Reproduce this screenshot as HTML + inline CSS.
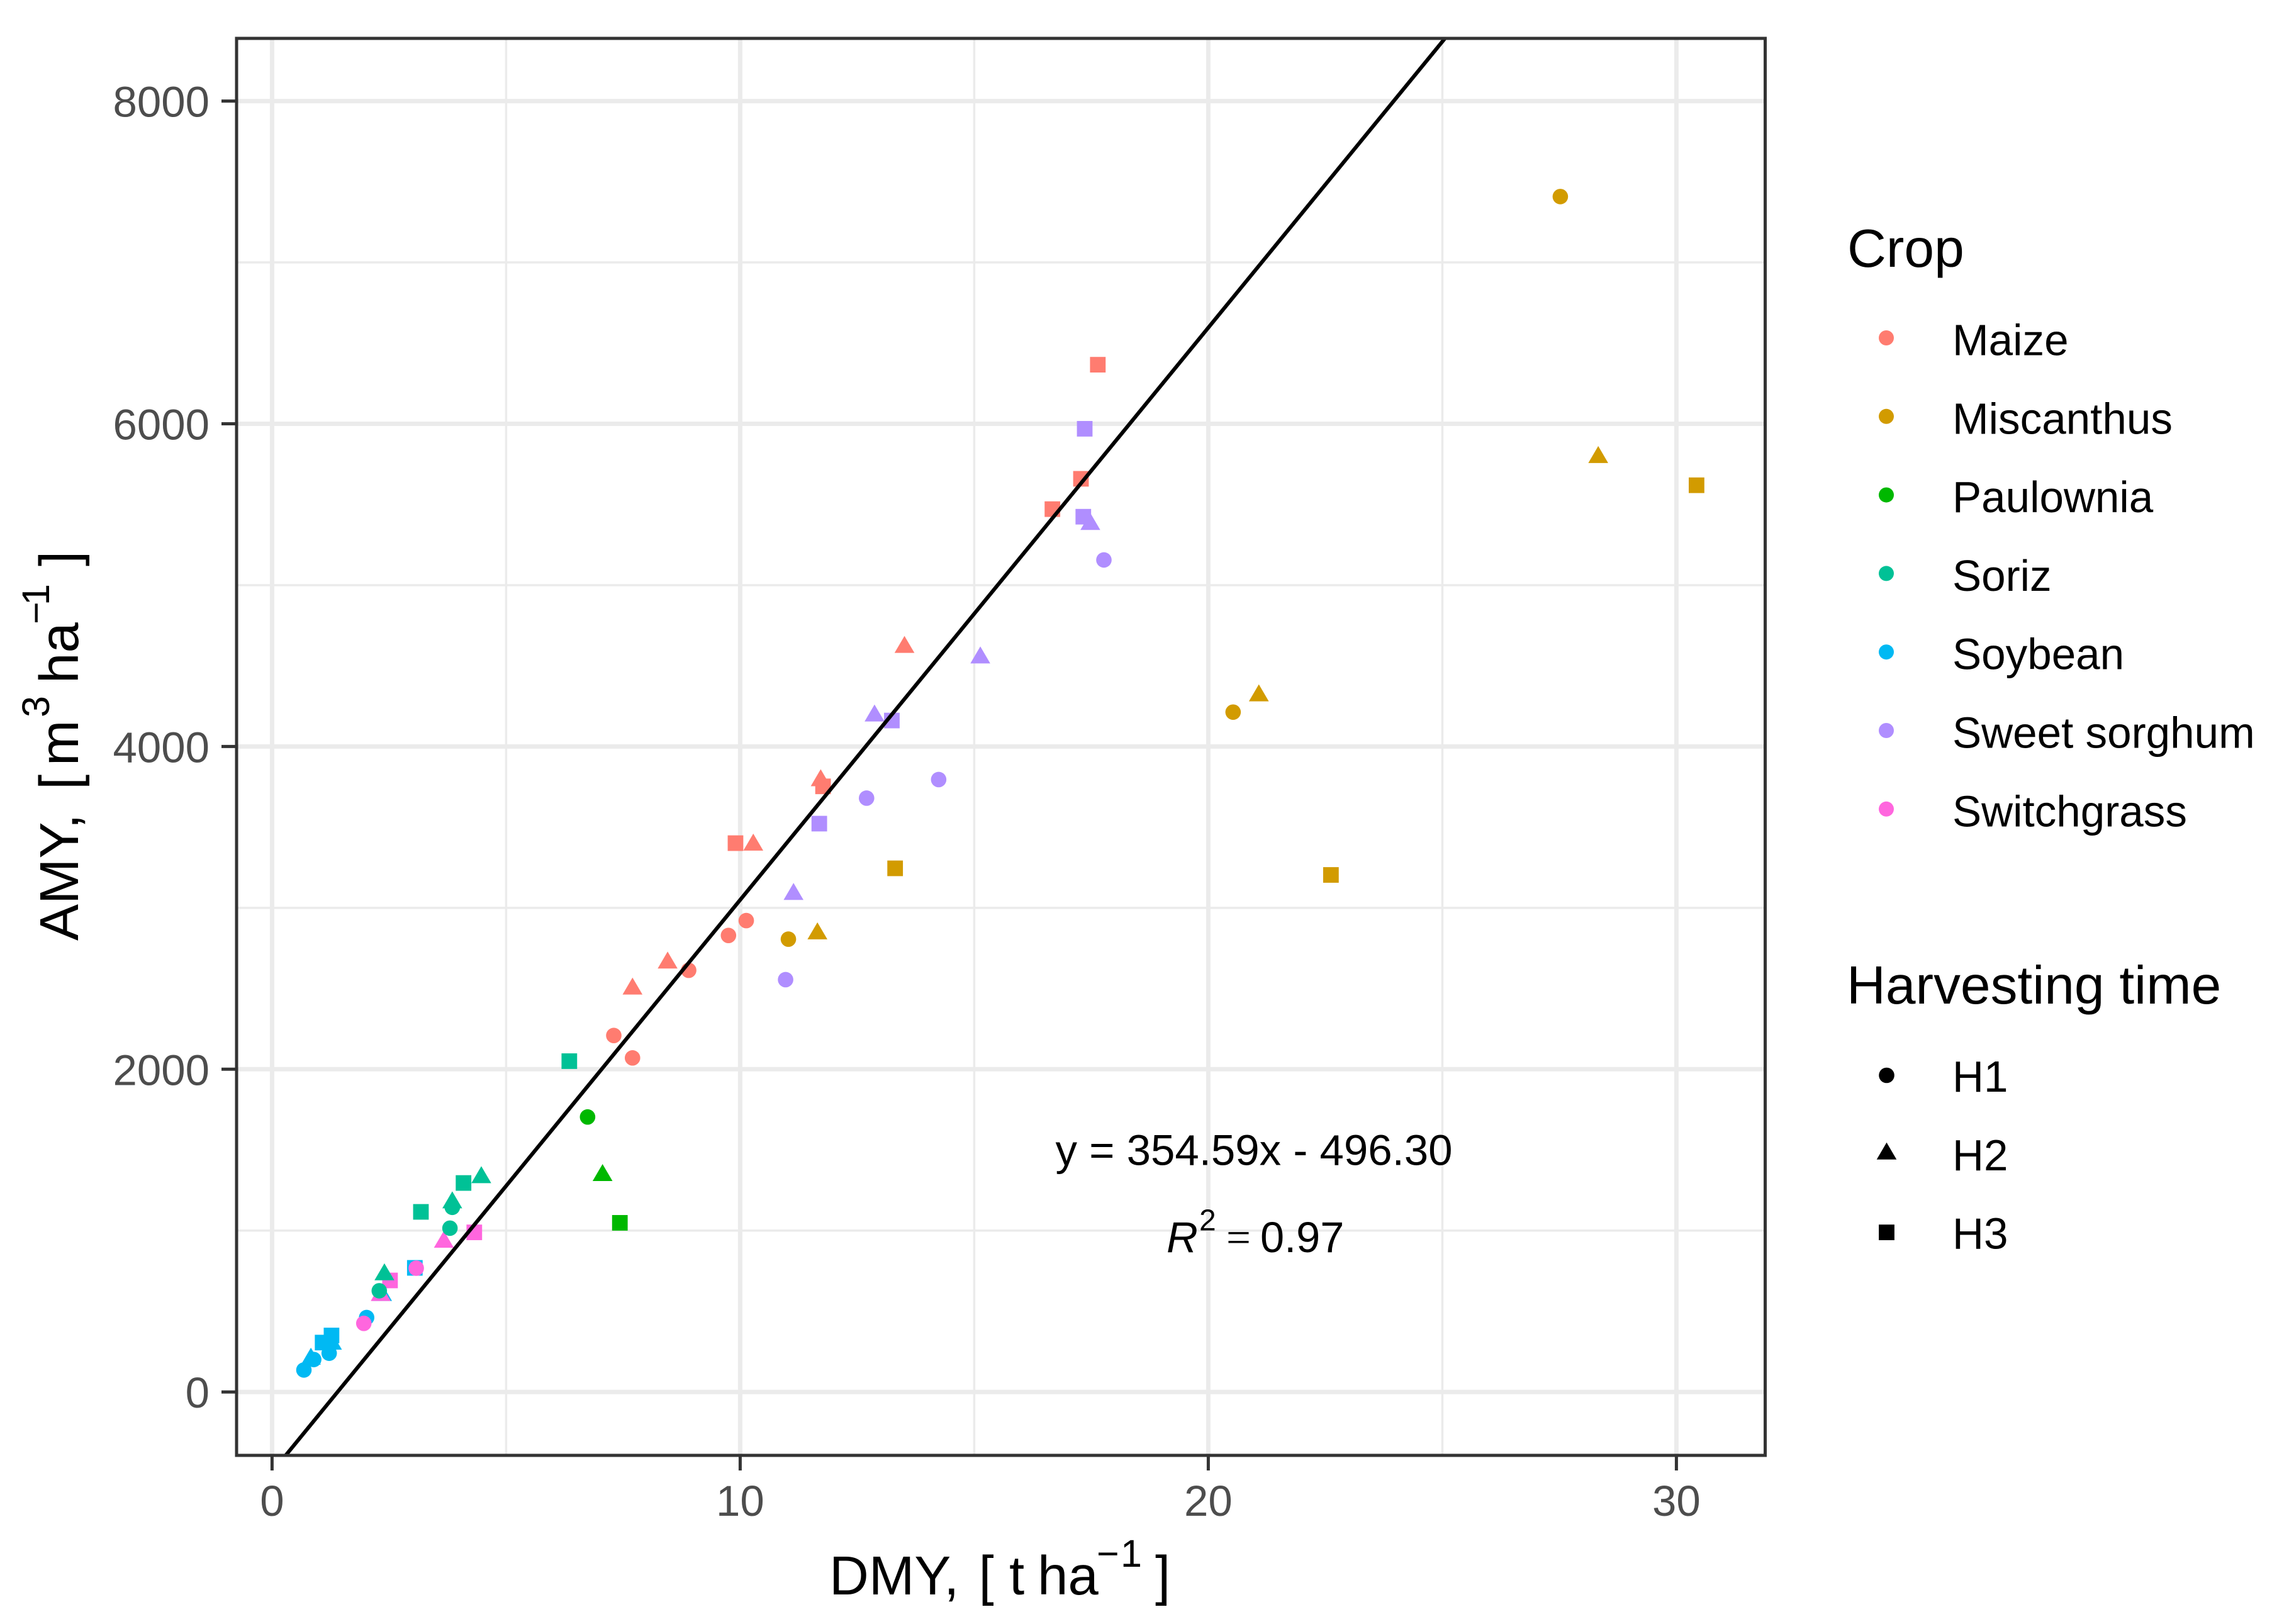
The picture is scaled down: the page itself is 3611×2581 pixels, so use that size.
<!DOCTYPE html>
<html lang="en">
<head>
<meta charset="utf-8">
<title>AMY vs DMY scatter plot</title>
<style>
html,body{margin:0;padding:0;background:#fff;}
svg{display:block;font-family:"Liberation Sans",Arial,sans-serif;}
</style>
</head>
<body>
<svg id="chart" xmlns="http://www.w3.org/2000/svg" width="3611" height="2581" viewBox="0 0 3611 2581">
  <rect x="0" y="0" width="3611" height="2581" fill="#ffffff"/>
  <defs>
    <clipPath id="panel-clip"><rect x="376" y="61" width="2429.5" height="2252"/></clipPath>
  </defs>
  <g id="grid" clip-path="url(#panel-clip)"></g>
  <g id="points" clip-path="url(#panel-clip)"></g>
  <g id="trend" clip-path="url(#panel-clip)"></g>
  <rect x="376" y="61" width="2429.5" height="2252" fill="none" stroke="#333333" stroke-width="5"/>
  <g id="axes"></g>

  <g font-size="87" fill="#000">
    <text x="1318" y="2534">DMY,</text>
    <text x="1555.5" y="2534">[</text>
    <text x="1604" y="2534">t</text>
    <text x="1649" y="2534">ha</text>
    <text x="1743" y="2490" font-size="61">−</text>
    <text x="1781" y="2490" font-size="61">1</text>
    <text x="1836" y="2534">]</text>
  </g>
  <g transform="translate(124 1495) rotate(-90)" font-size="87" fill="#000">
    <text x="0" y="0">AMY,</text>
    <text x="240" y="0">[</text>
    <text x="278" y="0">m</text>
    <text x="355" y="-46" font-size="61">3</text>
    <text x="409" y="0">ha</text>
    <text x="503" y="-46" font-size="61">−</text>
    <text x="533" y="-46" font-size="61">1</text>
    <text x="595" y="0">]</text>
  </g>

  <text x="1993" y="1851.7" text-anchor="middle" font-size="69" fill="#000">y = 354.59x - 496.30</text>
  <g fill="#000">
    <text x="1854" y="1990" font-size="69" font-style="italic">R</text>
    <text x="1906" y="1955.6" font-size="48">2</text>
    <text x="1949" y="1990" font-size="69" font-family="Liberation Serif, serif">=</text>
    <text x="2003" y="1990" font-size="68.5">0.97</text>
  </g>

  <g id="legend-crop">
    <text x="2936" y="424" font-size="85.7" fill="#000">Crop</text>
  </g>
  <g id="legend-harvest">
    <text x="2935" y="1595" font-size="85.7" fill="#000">Harvesting time</text>
  </g>
</svg>
<script>
// Axis tick values
const xMajorTicks = [0, 10, 20, 30];
const xMinorTicks = [5, 15, 25];
const yMajorTicks = [0, 2000, 4000, 6000, 8000];
const yMinorTicks = [1000, 3000, 5000, 7000];

// Legend categories
const crops = ['Maize', 'Miscanthus', 'Paulownia', 'Soriz', 'Soybean', 'Sweet sorghum', 'Switchgrass'];
const cropColors = ['#FF7C70', '#D29B00', '#00B800', '#00C196', '#00B9F3', '#B08EFF', '#FF66DE'];
const harvests = ['H1', 'H2', 'H3'];

// Regression line
const slope = 354.59;
const intercept = -496.30;

// Series values: DMY (t/ha), AMY (m3/ha), harvest index (0=H1, 1=H2, 2=H3)
const soybeanDMY = [0.68, 0.89, 1.22, 2.02, 0.83, 1.28, 2.35, 1.27, 1.08, 3.05];
const soybeanAMY = [136, 201, 240, 461, 204, 297, 599, 350, 306, 769];
const soybeanHarvest = [0, 0, 0, 0, 1, 1, 1, 2, 2, 2];

const switchgrassDMY = [1.96, 3.08, 2.32, 3.67, 2.52, 4.32];
const switchgrassAMY = [425, 767, 599, 929, 691, 989];
const switchgrassHarvest = [0, 0, 1, 1, 2, 2];

const sorizDMY = [2.29, 3.80, 3.85, 2.40, 3.85, 4.47, 3.18, 4.09, 6.35];
const sorizAMY = [627, 1015, 1144, 727, 1173, 1329, 1116, 1295, 2050];
const sorizHarvest = [0, 0, 0, 1, 1, 1, 2, 2, 2];

const paulowniaDMY = [6.74, 7.06, 7.43];
const paulowniaAMY = [1704, 1342, 1048];
const paulowniaHarvest = [0, 1, 2];

const sorghumDMY = [10.97, 12.70, 14.24, 17.77, 11.14, 12.87, 15.13, 17.48, 11.69, 13.24, 17.36, 17.33];
const sorghumAMY = [2555, 3680, 3795, 5156, 3084, 4190, 4550, 5377, 3522, 4161, 5969, 5424];
const sorghumHarvest = [0, 0, 0, 0, 1, 1, 1, 1, 2, 2, 2, 2];

const miscanthusDMY = [11.03, 20.53, 27.52, 11.65, 21.08, 28.33, 13.31, 22.62, 30.43];
const miscanthusAMY = [2806, 4213, 7408, 2840, 4315, 5792, 3245, 3204, 5619];
const miscanthusHarvest = [0, 0, 0, 1, 1, 1, 2, 2, 2];

const maizeDMY = [7.30, 7.70, 8.90, 9.75, 10.13, 7.70, 8.45, 10.28, 11.72, 13.51, 9.90, 11.77, 17.64, 17.28, 16.67];
const maizeAMY = [2209, 2070, 2613, 2829, 2921, 2498, 2659, 3390, 3789, 4615, 3401, 3753, 6366, 5659, 5471];
const maizeHarvest = [0, 0, 0, 0, 0, 1, 1, 1, 1, 1, 2, 2, 2, 2, 2];

// Paint order (bottom to top)
const series = [
  {crop: 'Soybean', dmy: soybeanDMY, amy: soybeanAMY, harvest: soybeanHarvest},
  {crop: 'Switchgrass', dmy: switchgrassDMY, amy: switchgrassAMY, harvest: switchgrassHarvest},
  {crop: 'Soriz', dmy: sorizDMY, amy: sorizAMY, harvest: sorizHarvest},
  {crop: 'Paulownia', dmy: paulowniaDMY, amy: paulowniaAMY, harvest: paulowniaHarvest},
  {crop: 'Sweet sorghum', dmy: sorghumDMY, amy: sorghumAMY, harvest: sorghumHarvest},
  {crop: 'Miscanthus', dmy: miscanthusDMY, amy: miscanthusAMY, harvest: miscanthusHarvest},
  {crop: 'Maize', dmy: maizeDMY, amy: maizeAMY, harvest: maizeHarvest}
];

// Axis functions
function xScale(v) { return 432.4 + 74.4 * v; }
function yScale(v) { return 2212.2 - 0.25645 * v; }

const NS = 'http://www.w3.org/2000/svg';
function make(tag, attrs, parent) {
  const el = document.createElementNS(NS, tag);
  for (const k in attrs) el.setAttribute(k, attrs[k]);
  parent.appendChild(el);
  return el;
}
function marker(parent, shape, cx, cy, fill) {
  if (shape === 0) {
    return make('circle', {cx: cx, cy: cy, r: 12.3, fill: fill}, parent);
  }
  if (shape === 1) {
    const pts = [[cx, cy - 18], [cx + 15.8, cy + 9], [cx - 15.8, cy + 9]].map(function (p) { return p.join(','); }).join(' ');
    return make('polygon', {points: pts, fill: fill}, parent);
  }
  return make('rect', {x: cx - 12.4, y: cy - 12.4, width: 24.8, height: 24.8, fill: fill}, parent);
}

const grid = document.getElementById('grid');
const axes = document.getElementById('axes');
const pointsLayer = document.getElementById('points');
const trendLayer = document.getElementById('trend');
const legendCrop = document.getElementById('legend-crop');
const legendHarvest = document.getElementById('legend-harvest');

// Grid
xMinorTicks.forEach(function (t) {
  const el = make('line', {x1: xScale(t), x2: xScale(t), y1: 61, y2: 2313, stroke: '#ebebeb', 'stroke-width': 3.5}, grid);
  
  
});
yMinorTicks.forEach(function (t) {
  const el = make('line', {x1: 376, x2: 2806, y1: yScale(t), y2: yScale(t), stroke: '#ebebeb', 'stroke-width': 3.5}, grid);
  
  
});
xMajorTicks.forEach(function (t) {
  const el = make('line', {x1: xScale(t), x2: xScale(t), y1: 61, y2: 2313, stroke: '#ebebeb', 'stroke-width': 7}, grid);
  
  
});
yMajorTicks.forEach(function (t) {
  const el = make('line', {x1: 376, x2: 2806, y1: yScale(t), y2: yScale(t), stroke: '#ebebeb', 'stroke-width': 7}, grid);
  
  
});

// Axis ticks and labels
xMajorTicks.forEach(function (t) {
  const tick = make('line', {x1: xScale(t), x2: xScale(t), y1: 2313, y2: 2337, stroke: '#333333', 'stroke-width': 5}, axes);
  
  
  const label = make('text', {x: xScale(t), y: 2409, 'text-anchor': 'middle', 'font-size': 69, fill: '#4d4d4d'}, axes);
  label.textContent = String(t);
  
  
});
yMajorTicks.forEach(function (t) {
  const tick = make('line', {x1: 352, x2: 376, y1: yScale(t), y2: yScale(t), stroke: '#333333', 'stroke-width': 5}, axes);
  
  
  const label = make('text', {x: 333, y: yScale(t) + 25, 'text-anchor': 'end', 'font-size': 69, fill: '#4d4d4d'}, axes);
  label.textContent = String(t);
  
  
});

// Points
series.forEach(function (s) {
  const color = cropColors[crops.indexOf(s.crop)];
  s.dmy.forEach(function (d, i) {
    const el = marker(pointsLayer, s.harvest[i], xScale(d), yScale(s.amy[i]), color);
    
    
    el.setAttribute('data-crop', s.crop);
  });
});

// Regression line
const trendX = [0, 26];
const trendLine = make('line', {
  x1: xScale(trendX[0]), y1: yScale(slope * trendX[0] + intercept),
  x2: xScale(trendX[1]), y2: yScale(slope * trendX[1] + intercept),
  stroke: '#000000', 'stroke-width': 6
}, trendLayer);



// Crop legend
crops.forEach(function (c, i) {
  const key = make('circle', {cx: 2998, cy: 537 + i * 124.8, r: 12, fill: cropColors[i]}, legendCrop);
  
  
  const label = make('text', {x: 3103, y: 564.5 + i * 124.8, 'font-size': 69.2, fill: '#000'}, legendCrop);
  label.textContent = c;
  
  
});

// Harvest legend
harvests.forEach(function (h, i) {
  const key = marker(legendHarvest, i, 2998.5, 1709 + i * 124.8, '#000');
  
  
  const label = make('text', {x: 3103, y: 1735 + i * 124.8, 'font-size': 69.2, fill: '#000'}, legendHarvest);
  label.textContent = h;
  
  
});
</script>
</body>
</html>
